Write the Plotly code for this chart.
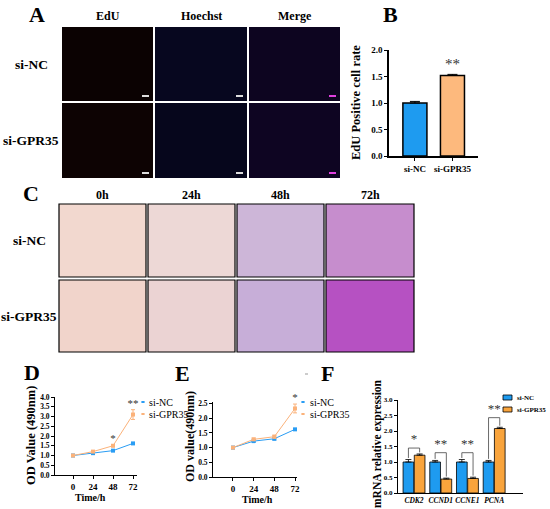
import plotly.graph_objects as go

W, H = 550, 509
FONT = "Liberation Serif"


def px(x):
    return x / W


def py(y):
    return 1 - y / H


BLUE = "#1E9BF0"
ORANGE_B = "#FDB97D"
ORANGE_F = "#F9A43C"
LINE_BLUE = "#2A9DF4"
LINE_ORANGE = "#FBB27A"

series = ["si-NC", "si-GPR35"]

# ---- panel B: EdU positive cell rate
b_groups = ["si-NC", "si-GPR35"]
b_rate = [1.0, 1.52]
b_err = [0.03, 0.02]
b_marks = ["", "**"]

# ---- panel D / E: OD value over time
time_h = [0, 24, 48, 72]
d_nc = [1.0, 1.12, 1.25, 1.62]
d_nc_err = [0.03, 0.03, 0.04, 0.04]
d_gpr = [1.0, 1.2, 1.5, 3.1]
d_gpr_err = [0.03, 0.04, 0.05, 0.25]
d_marks = ["", "", "*", "**"]

e_nc = [1.0, 1.22, 1.3, 1.62]
e_nc_err = [0.02, 0.03, 0.04, 0.03]
e_gpr = [1.0, 1.28, 1.37, 2.33]
e_gpr_err = [0.02, 0.04, 0.05, 0.15]
e_marks = ["", "", "", "*"]

# ---- panel F: mRNA relative expression
genes = ["CDK2", "CCND1", "CCNE1", "PCNA"]
f_nc = [1.0, 1.0, 1.0, 1.0]
f_nc_err = [0.08, 0.05, 0.08, 0.05]
f_gpr = [1.22, 0.45, 0.47, 2.08]
f_gpr_err = [0.04, 0.03, 0.04, 0.04]
f_bracket = [1.45, 1.30, 1.30, 2.43]
f_marks = ["*", "**", "**", "**"]

# ---- image tiles (flat average colours of the micrographs)
a_cols = ["EdU", "Hoechst", "Merge"]
a_rows = ["si-NC", "si-GPR35"]
a_fill = [["#0B0202", "#07071F", "#0D0520"],
          ["#0D0303", "#06061C", "#0E0522"]]
c_cols = ["0h", "24h", "48h", "72h"]
c_rows = ["si-NC", "si-GPR35"]
c_fill = [["#F2D8CF", "#EDD8D6", "#CDB6D8", "#C68DCD"],
          ["#F1D4CB", "#EBD3D3", "#C7AED8", "#B651C2"]]

b_pos = list(range(len(b_groups)))
g_pos = list(range(len(genes)))

fig = go.Figure()

# B
fig.add_trace(go.Bar(
    x=b_pos, y=b_rate, xaxis="x", yaxis="y",
    marker=dict(color=[BLUE, ORANGE_B], line=dict(color="black", width=1.5)),
    width=0.64, offset=-0.32,
    error_y=dict(type="data", array=b_err, arrayminus=[0] * len(b_err),
                 symmetric=False, color="black", thickness=1, width=5),
    text=b_marks, textposition="outside", textfont=dict(family=FONT, size=15, color="#333"),
    cliponaxis=False, showlegend=False))


def od_traces(xa, ya, nc, nce, gpr, gpre):
    fig.add_trace(go.Scatter(
        x=time_h, y=nc, xaxis=xa, yaxis=ya, name=series[0], showlegend=False,
        mode="lines+markers", line=dict(color=LINE_BLUE, width=1),
        marker=dict(color=LINE_BLUE, size=4, symbol="square"),
        error_y=dict(type="data", array=nce, color=LINE_BLUE, thickness=1, width=2)))
    fig.add_trace(go.Scatter(
        x=time_h, y=gpr, xaxis=xa, yaxis=ya, name=series[1], showlegend=False,
        mode="lines+markers", line=dict(color=LINE_ORANGE, width=1),
        marker=dict(color=LINE_ORANGE, size=4, symbol="square"),
        error_y=dict(type="data", array=gpre, color=LINE_ORANGE, thickness=1, width=2)))


od_traces("x2", "y2", d_nc, d_nc_err, d_gpr, d_gpr_err)
od_traces("x3", "y3", e_nc, e_nc_err, e_gpr, e_gpr_err)

# significance marks on D / E
for xa, ya, gpr, err, marks in [("x2", "y2", d_gpr, d_gpr_err, d_marks),
                                ("x3", "y3", e_gpr, e_gpr_err, e_marks)]:
    fig.add_trace(go.Scatter(
        x=time_h, y=[g + e for g, e in zip(gpr, err)], xaxis=xa, yaxis=ya,
        mode="text", text=marks, textposition="top center",
        textfont=dict(family=FONT, size=11, color="#333"),
        showlegend=False, cliponaxis=False, hoverinfo="skip"))

# F
fig.add_trace(go.Bar(
    x=g_pos, y=f_nc, xaxis="x4", yaxis="y4", name=series[0], showlegend=False,
    marker=dict(color=BLUE, line=dict(color="black", width=0.8)),
    width=0.4, offset=-0.41,
    error_y=dict(type="data", array=f_nc_err, arrayminus=[0] * 4, symmetric=False,
                 color="black", thickness=0.8, width=3)))
fig.add_trace(go.Bar(
    x=g_pos, y=f_gpr, xaxis="x4", yaxis="y4", name=series[1], showlegend=False,
    marker=dict(color=ORANGE_F, line=dict(color="black", width=0.8)),
    width=0.4, offset=0.01,
    error_y=dict(type="data", array=f_gpr_err, arrayminus=[0] * 4, symmetric=False,
                 color="black", thickness=0.8, width=3)))

# brackets on F
for i in g_pos:
    left = f_nc[i] + f_nc_err[i] + 0.05
    right = f_gpr[i] + f_gpr_err[i] + 0.05
    top = f_bracket[i]
    fig.add_trace(go.Scatter(
        x=[i - 0.21, i - 0.21, i + 0.21, i + 0.21], y=[left, top, top, right],
        xaxis="x4", yaxis="y4", mode="lines", line=dict(color="#444", width=0.8),
        showlegend=False, hoverinfo="skip"))
fig.add_trace(go.Scatter(
    x=g_pos, y=[b + 0.06 for b in f_bracket], xaxis="x4", yaxis="y4",
    mode="text", text=f_marks, textposition="top center",
    textfont=dict(family=FONT, size=13, color="#333"),
    showlegend=False, cliponaxis=False, hoverinfo="skip"))

axis_base = dict(showline=True, linecolor="black", linewidth=1, ticks="outside",
                 ticklen=3, tickwidth=1, tickcolor="black", showgrid=False, zeroline=False,
                 automargin=False, tickangle=0,
                 tickfont=dict(family=FONT, size=9, color="black", weight="bold"))
small_tick = dict(family=FONT, size=7.5, color="black", weight="bold")

fig.update_layout(
    width=W, height=H, margin=dict(l=0, r=0, t=0, b=0, pad=0, autoexpand=False),
    paper_bgcolor="white", plot_bgcolor="white", showlegend=False,
    font=dict(family=FONT, color="black"),
    xaxis=dict(axis_base, domain=[px(389), px(478)], anchor="y",
               range=[-0.69, 1.68], linewidth=1.5, tickvals=b_pos, ticktext=b_groups),
    yaxis=dict(axis_base, domain=[py(156), py(50)], anchor="x", range=[0, 2.0],
               dtick=0.5, tickformat=".1f", linewidth=1.5),
    xaxis2=dict(axis_base, domain=[px(55), px(137)], anchor="y2", range=[-21.6, 76.8],
                tickvals=time_h),
    yaxis2=dict(axis_base, domain=[py(475), py(397)], anchor="x2", range=[0, 4.0],
                dtick=0.5, tickformat=".1f", tickfont=small_tick),
    xaxis3=dict(axis_base, domain=[px(213), px(297)], anchor="y3", range=[-23.2, 74.3],
                tickvals=time_h),
    yaxis3=dict(axis_base, domain=[py(477), py(402)], anchor="x3", range=[0, 2.55],
                dtick=0.5, tickformat=".1f", tickfont=small_tick),
    xaxis4=dict(axis_base, domain=[px(398), px(523)], anchor="y4",
                range=[-0.6, 4.08], ticks="", tickvals=g_pos,
                ticktext=["<i>%s</i>" % g for g in genes], tickfont=small_tick),
    yaxis4=dict(axis_base, domain=[py(493), py(400)], anchor="x4", range=[0, 3.0],
                dtick=0.5, tickformat=".1f",
                tickfont=dict(family=FONT, size=7, color="black", weight="bold")),
)

shapes = []
annotations = []


def label(x, y, text, size, angle=0, weight="bold", xanchor="center"):
    annotations.append(dict(x=px(x), y=py(y), xref="paper", yref="paper", text=text,
                            showarrow=False, textangle=angle, xanchor=xanchor,
                            yanchor="middle",
                            font=dict(family=FONT, size=size, color="black", weight=weight)))


def rect(x0, x1, y0, y1, fill, line_color=None, lw=0):
    shapes.append(dict(type="rect", xref="paper", yref="paper",
                       x0=px(x0), x1=px(x1), y0=py(y1), y1=py(y0), fillcolor=fill,
                       line=dict(color=line_color or fill, width=lw)))


def hline(x0, x1, y, color, lw):
    shapes.append(dict(type="line", xref="paper", yref="paper",
                       x0=px(x0), x1=px(x1), y0=py(y), y1=py(y),
                       line=dict(color=color, width=lw)))


# panel A tiles
a_x = [(62, 153), (155, 247), (249, 340)]
a_y = [(27, 101), (103, 178)]
for r, (y0, y1) in enumerate(a_y):
    for c, (x0, x1) in enumerate(a_x):
        rect(x0, x1, y0, y1, a_fill[r][c])
        rect(x1 - 11, x1 - 4, y1 - 6, y1 - 4, "#E040E0" if c == 2 else "#DDDDDD")
for c, (x0, x1) in enumerate(a_x):
    label((x0 + x1) / 2, 16, a_cols[c], 12)
for r, (y0, y1) in enumerate(a_y):
    label(31, (y0 + y1) / 2, a_rows[r], 13.5)

# panel C tiles
c_x = [(59, 146), (148, 235), (237, 324), (326, 414)]
c_y = [(204, 277), (280, 352)]
for r, (y0, y1) in enumerate(c_y):
    for c, (x0, x1) in enumerate(c_x):
        rect(x0, x1, y0, y1, c_fill[r][c], "black", 1.2)
for c, (x0, x1) in enumerate(c_x):
    label((x0 + x1) / 2, 195, c_cols[c], 12)
for r, (y0, y1) in enumerate(c_y):
    label(29, (y0 + y1) / 2, c_rows[r], 13.5)

# panel letters
for t, x, y in [("A", 37, 15), ("B", 390, 15), ("C", 31, 193),
                ("D", 32, 372), ("E", 182, 373), ("F", 327, 373)]:
    label(x, y, t, 22)
hline(305, 308, 374, "#999999", 1)

# axis titles
label(356, 103, "EdU Positive cell rate", 12.5, -90)
label(31, 436, "OD Value (490nm)", 12.5, -90)
label(90, 497, "Time/h", 10)
label(190, 437, "OD value(490nm)", 12, -90)
label(257, 499, "Time/h", 10)
label(377, 444, "mRNA relative expression", 11.5, -90)

# legends of D and E
for lx, tx in [(141, 147), (301, 308)]:
    for name, col, ly in [(series[0], LINE_BLUE, 402), (series[1], LINE_ORANGE, 414)]:
        hline(lx, lx + 4, ly, col, 1.2)
        rect(lx + 1, lx + 3, ly - 1, ly + 1, col)
        label(tx, ly, name, 10, weight="normal", xanchor="left")

# legend of F
for name, col, ly in [(series[0], BLUE, 397.5), (series[1], ORANGE_F, 409.5)]:
    rect(503, 512, ly - 2.5, ly + 2.5, col, "black", 0.8)
    label(515, ly, name, 7, xanchor="left")

fig.update_layout(shapes=shapes, annotations=annotations)
fig.write_html("out.html", config={"displayModeBar": False},
               post_script="document.body.style.margin = '0px';")
